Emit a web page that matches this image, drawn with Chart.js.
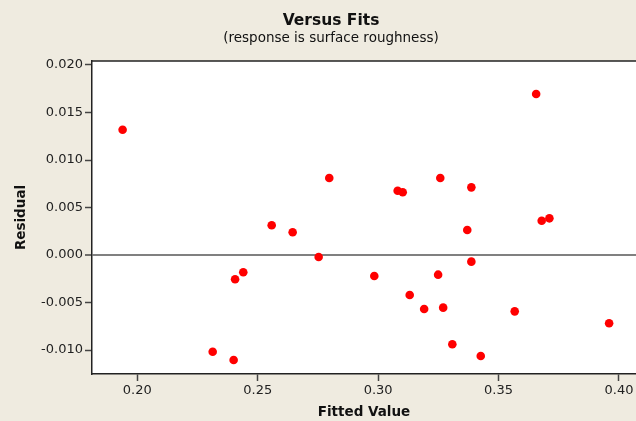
<!DOCTYPE html>
<html><head><meta charset="utf-8">
<script src="https://cdn.jsdelivr.net/npm/chart.js@4"></script>
<style>html,body{margin:0;padding:0;background:#efebe0;} canvas{display:block;}</style>
</head><body>
<canvas id="c" width="636" height="421"></canvas>
<script>
const chartTitle = "Versus Fits";
const chartSubtitle = "(response is surface roughness)";
const xAxisTitle = "Fitted Value";
const yAxisTitle = "Residual";
const fittedValues = [0.1939, 0.2797, 0.2558, 0.2645, 0.2753, 0.2440, 0.2406, 0.2313, 0.2400,
  0.3656, 0.3258, 0.3081, 0.3102, 0.3387, 0.3370, 0.3679, 0.3711, 0.3387, 0.2984, 0.3249,
  0.3131, 0.3191, 0.3270, 0.3567, 0.3959, 0.3308, 0.3426];
const residuals = [0.01319, 0.00810, 0.00313, 0.00239, -0.00021, -0.00182, -0.00256, -0.01018, -0.01105,
  0.01695, 0.00810, 0.00677, 0.00660, 0.00712, 0.00263, 0.00361, 0.00386, -0.00070, -0.00221, -0.00207,
  -0.00421, -0.00568, -0.00554, -0.00593, -0.00719, -0.00940, -0.01063];
const xTicks = [0.20, 0.25, 0.30, 0.35, 0.40];
const yTicks = [-0.010, -0.005, 0.000, 0.005, 0.010, 0.015, 0.020];
const xRange = [0.18119, 0.40706];
const yRange = [-0.012526, 0.020421];

const points = fittedValues.map((x, i) => ({x: x, y: residuals[i]}));
const BG = '#efebe0';
const FONT = "'DejaVu Sans', Verdana, sans-serif";

const framePlugin = {
  id: 'frame',
  beforeDraw(chart) {
    const {ctx, chartArea: a, width, height} = chart;
    ctx.save();
    ctx.fillStyle = BG;
    ctx.fillRect(0, 0, width, height);
    ctx.fillStyle = '#ffffff';
    ctx.fillRect(a.left, a.top, a.right - a.left, a.bottom - a.top);
    ctx.restore();
  },
  afterDraw(chart) {
    const {ctx, chartArea: a} = chart;
    ctx.save();
    ctx.strokeStyle = '#222';
    ctx.lineWidth = 1.5;
    ctx.beginPath();
    ctx.moveTo(a.left, a.top);
    ctx.lineTo(a.right + 2, a.top);
    ctx.stroke();
    ctx.fillStyle = '#111';
    ctx.textAlign = 'center';
    ctx.textBaseline = 'alphabetic';
    ctx.font = "bold 15.5px " + FONT;
    ctx.fillText(chartTitle, 331, 24.5);
    ctx.font = "13.5px " + FONT;
    ctx.fillText(chartSubtitle, 331, 42);
    ctx.restore();
  }
};

function noPad(s) {
  s.paddingLeft = 0; s.paddingRight = 0; s.paddingTop = 0; s.paddingBottom = 0;
}

new Chart(document.getElementById('c'), {
  type: 'scatter',
  data: {
    datasets: [{
      data: points,
      backgroundColor: '#ff0000',
      borderColor: '#ff0000',
      borderWidth: 0,
      pointRadius: 4.3,
      pointHoverRadius: 4.3
    }]
  },
  options: {
    responsive: false,
    animation: false,
    devicePixelRatio: 1,
    layout: {autoPadding: false, padding: {top: 61, left: 0, right: 0, bottom: 0}},
    plugins: {legend: {display: false}, title: {display: false}, tooltip: {enabled: false}},
    scales: {
      x: {
        type: 'linear',
        min: xRange[0], max: xRange[1],
        afterBuildTicks: s => { s.ticks = xTicks.map(v => ({value: v})); },
        afterFit: s => { s.height = 47; noPad(s); },
        ticks: {
          callback: v => v.toFixed(2),
          font: {family: FONT, size: 13},
          color: '#222',
          padding: 2,
          maxRotation: 0,
          autoSkip: false
        },
        grid: {drawOnChartArea: false, drawTicks: true, tickLength: 7, tickColor: '#444', tickWidth: 1.5},
        border: {display: true, color: '#222', width: 1.5},
        title: {display: true, text: xAxisTitle, font: {family: FONT, size: 13.5, weight: 'bold'}, color: '#111', padding: {top: 0, bottom: 0}}
      },
      y: {
        type: 'linear',
        min: yRange[0], max: yRange[1],
        afterBuildTicks: s => { s.ticks = yTicks.map(v => ({value: v})); },
        afterFit: s => { s.width = 92; noPad(s); },
        ticks: {
          callback: v => v.toFixed(3),
          font: {family: FONT, size: 13},
          color: '#222',
          padding: 2,
          autoSkip: false
        },
        grid: {
          drawOnChartArea: true,
          drawTicks: true,
          tickLength: 7,
          tickColor: '#444',
          tickWidth: 1.5,
          color: c => (c.tick && Math.abs(c.tick.value) < 1e-9) ? '#808080' : 'rgba(0,0,0,0)',
          lineWidth: c => (c.tick && Math.abs(c.tick.value) < 1e-9) ? 2 : 1
        },
        border: {display: true, color: '#222', width: 1.5},
        title: {display: true, text: yAxisTitle, font: {family: FONT, size: 13.5, weight: 'bold'}, color: '#111', padding: {top: 13, bottom: 0}}
      }
    }
  },
  plugins: [framePlugin]
});
</script>
</body></html>
